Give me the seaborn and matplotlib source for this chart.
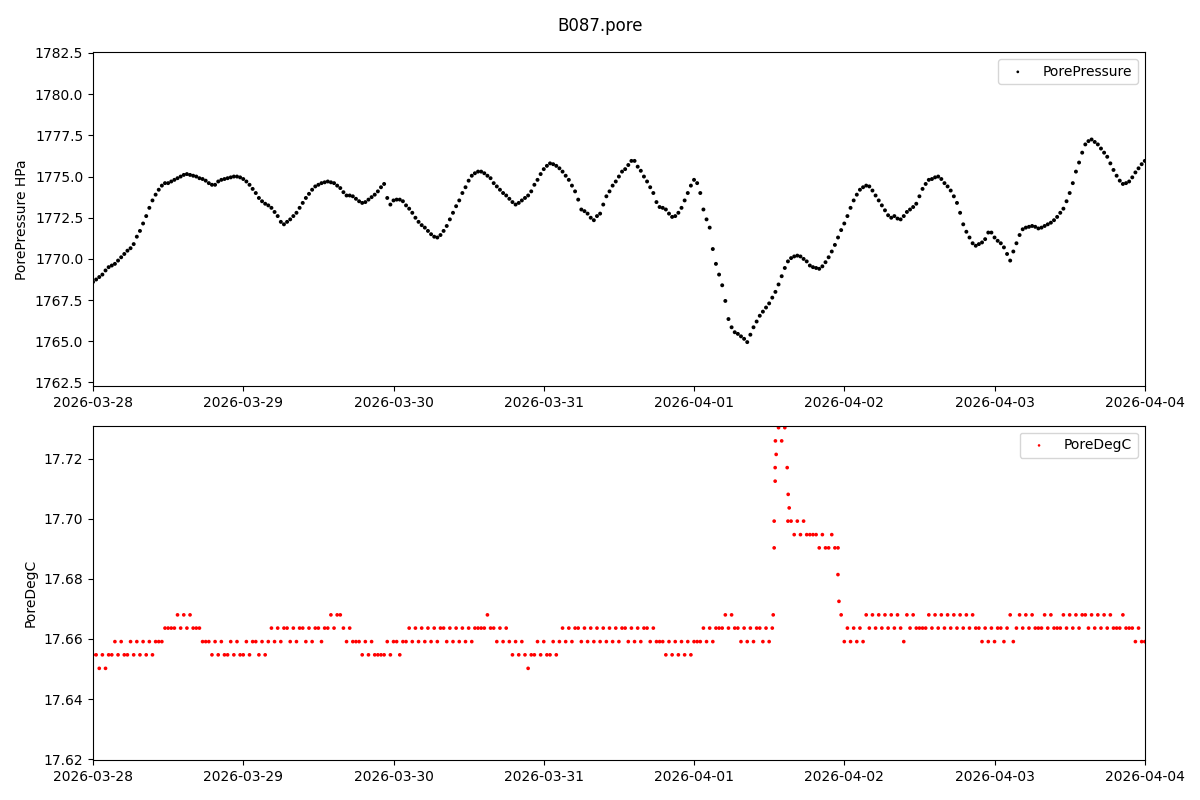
import matplotlib.pyplot as plt
import matplotlib.dates as mdates
import numpy as np
import pandas as pd
import seaborn as sns

title = 'B087.pore'
start = '2026-03-28'
end = '2026-04-04'

# pore pressure (HPa), one reading every 30 min from 2026-03-28 00:00
pressure = [
    1768.6, 1768.75, 1768.9, 1769.05, 1769.3, 1769.5, 1769.6, 1769.7, 1769.9, 1770.1, 1770.3, 1770.5,
    1770.65, 1770.9, 1771.35, 1771.7, 1772.15, 1772.6, 1773.1, 1773.55, 1773.9, 1774.2, 1774.45, 1774.6,
    1774.6, 1774.7, 1774.8, 1774.9, 1775.0, 1775.1, 1775.15, 1775.1, 1775.05, 1775.0, 1774.9, 1774.85,
    1774.75, 1774.6, 1774.5, 1774.5, 1774.7, 1774.8, 1774.85, 1774.9, 1774.95, 1775.0, 1775.0, 1774.95,
    1774.85, 1774.7, 1774.5, 1774.25, 1774.0, 1773.7, 1773.5, 1773.35, 1773.25, 1773.1, 1772.85, 1772.6,
    1772.25, 1772.1, 1772.25, 1772.4, 1772.6, 1772.8, 1773.1, 1773.4, 1773.7, 1773.95, 1774.2, 1774.4,
    1774.5, 1774.6, 1774.65, 1774.7, 1774.65, 1774.6, 1774.45, 1774.3, 1774.05, 1773.85, 1773.85, 1773.8,
    1773.65, 1773.5, 1773.4, 1773.45, 1773.6, 1773.75, 1773.9, 1774.1, 1774.35, 1774.55, 1773.7, 1773.3,
    1773.55, 1773.6, 1773.6, 1773.5, 1773.25, 1773.05, 1772.8, 1772.5, 1772.25, 1772.05, 1771.9, 1771.7,
    1771.5, 1771.35, 1771.3, 1771.45, 1771.7, 1772.0, 1772.4, 1772.8, 1773.2, 1773.55, 1774.0, 1774.35,
    1774.75, 1775.05, 1775.2, 1775.3, 1775.3, 1775.2, 1775.05, 1774.9, 1774.6, 1774.4, 1774.2, 1774.0,
    1773.85, 1773.65, 1773.45, 1773.3, 1773.4, 1773.55, 1773.7, 1773.85, 1774.1, 1774.5, 1774.8, 1775.15,
    1775.45, 1775.65, 1775.8, 1775.75, 1775.65, 1775.5, 1775.3, 1775.05, 1774.8, 1774.45, 1774.1, 1773.6,
    1773.0, 1772.9, 1772.75, 1772.5, 1772.35, 1772.6, 1772.75, 1773.3, 1773.8, 1774.1, 1774.45, 1774.7,
    1775.0, 1775.3, 1775.45, 1775.7, 1775.95, 1775.95, 1775.6, 1775.35, 1775.0, 1774.7, 1774.35, 1774.0,
    1773.45, 1773.15, 1773.1, 1773.0, 1772.75, 1772.55, 1772.6, 1772.8, 1773.1, 1773.55, 1774.0, 1774.45,
    1774.8, 1774.6, 1774.0, 1773.0, 1772.4, 1771.9, 1770.6, 1769.7, 1769.05, 1768.4, 1767.45, 1766.35,
    1765.85, 1765.55, 1765.45, 1765.3, 1765.15, 1764.95, 1765.4, 1765.85, 1766.2, 1766.55, 1766.8, 1767.05,
    1767.3, 1767.65, 1768.0, 1768.45, 1768.95, 1769.45, 1769.85, 1770.05, 1770.15, 1770.2, 1770.15, 1770.0,
    1769.85, 1769.6, 1769.5, 1769.45, 1769.4, 1769.55, 1769.8, 1770.1, 1770.45, 1770.85, 1771.3, 1771.75,
    1772.15, 1772.6, 1773.1, 1773.55, 1773.9, 1774.2, 1774.35, 1774.45, 1774.4, 1774.15, 1773.85, 1773.55,
    1773.25, 1772.95, 1772.65, 1772.5, 1772.6, 1772.45, 1772.4, 1772.6, 1772.85, 1773.0, 1773.15, 1773.35,
    1773.8, 1774.25, 1774.55, 1774.8, 1774.85, 1774.95, 1775.0, 1774.85, 1774.6, 1774.4, 1774.15, 1773.8,
    1773.4, 1772.8, 1772.1, 1771.65, 1771.3, 1770.95, 1770.8, 1770.9, 1771.0, 1771.2, 1771.6, 1771.6,
    1771.3, 1771.1, 1770.95, 1770.7, 1770.3, 1769.9, 1770.45, 1770.95, 1771.45, 1771.8, 1771.9, 1771.95,
    1772.0, 1771.95, 1771.85, 1771.9, 1772.0, 1772.1, 1772.2, 1772.35, 1772.55, 1772.8, 1773.05, 1773.5,
    1774.0, 1774.6, 1775.3, 1775.85, 1776.45, 1776.95, 1777.15, 1777.25, 1777.1, 1776.95, 1776.7, 1776.45,
    1776.2, 1775.8, 1775.4, 1775.05, 1774.75, 1774.55, 1774.6, 1774.7, 1774.95, 1775.25, 1775.5, 1775.75,
    1775.95,
]

# the sensor reports temperature in fixed steps
temp_steps = [17.6502, 17.6547, 17.6591, 17.6636, 17.6680, 17.6725, 17.6769, 17.6814, 17.6858,
              17.6903, 17.6947, 17.6992, 17.7036, 17.7081, 17.7125, 17.7170, 17.7214, 17.7259, 17.7303]

# step index every 30 min, same clock as pressure
temp_idx = [
    1, 1, 0, 1, 0, 1, 1, 2, 1, 2, 1, 1,
    2, 1, 2, 1, 2, 1, 2, 1, 2, 2, 2, 3,
    3, 3, 3, 4, 3, 4, 3, 4, 3, 3, 3, 2,
    2, 2, 1, 2, 1, 2, 1, 1, 2, 1, 2, 1,
    1, 2, 1, 2, 2, 1, 2, 1, 2, 3, 2, 3,
    2, 3, 3, 2, 3, 2, 3, 3, 2, 3, 2, 3,
    3, 2, 3, 3, 4, 3, 4, 4, 3, 2, 3, 2,
    2, 2, 1, 2, 1, 2, 1, 1, 1, 1, 2, 1,
    2, 2, 1, 2, 2, 3, 2, 3, 2, 3, 2, 3,
    2, 3, 2, 3, 3, 2, 3, 2, 3, 2, 3, 2,
    3, 2, 3, 3, 3, 3, 4, 3, 3, 2, 3, 2,
    3, 2, 1, 2, 1, 2, 1, 0, 1, 1, 2, 1,
    2, 1, 1, 2, 1, 2, 3, 2, 3, 2, 3, 3,
    2, 3, 2, 3, 2, 3, 2, 3, 2, 3, 2, 3,
    2, 3, 3, 2, 3, 2, 3, 2, 3, 3, 2, 3,
    2, 2, 2, 1, 2, 1, 2, 1, 2, 1, 2, 1,
    2, 2, 2, 3, 2, 3, 2, 3, 3, 3, 4, 3,
    4, 3, 3, 2, 3, 2, 3, 2, 3, 3, 2, 3,
    2, 3, 17, 18, 17, 18, 11, 11, 10, 11, 10, 11,
    10, 10, 10, 10, 9, 10, 9, 9, 10, 9, 9, 4,
    2, 3, 2, 3, 2, 3, 2, 4, 3, 4, 3, 4,
    3, 4, 3, 4, 3, 4, 3, 2, 4, 3, 4, 3,
    3, 3, 3, 4, 3, 4, 3, 4, 3, 4, 3, 4,
    3, 4, 3, 4, 3, 4, 3, 3, 2, 3, 2, 3,
    2, 3, 3, 2, 3, 4, 2, 3, 4, 3, 4, 3,
    4, 3, 3, 3, 4, 3, 4, 3, 3, 3, 4, 3,
    4, 3, 4, 3, 4, 4, 3, 4, 3, 4, 3, 4,
    3, 4, 3, 3, 3, 4, 3, 3, 3, 2, 3, 2,
    2,
]

# extra readings in the fast rise/fall of 2026-04-01 (hours after start, step index)
spike_hours = [108.65, 108.8, 108.8, 108.96, 108.96, 109.12, 110.88, 111.04, 111.2, 118.99, 119.15]
spike_idx = [4, 9, 11, 14, 15, 16, 15, 13, 12, 7, 5]

t0 = pd.Timestamp(start)
times = pd.date_range(t0, periods=len(pressure), freq='30min')
df_p = pd.DataFrame({'time': times, 'PorePressure': pressure})

t_times = list(times) + list(t0 + pd.to_timedelta(spike_hours, unit='h'))
t_vals = [temp_steps[i] for i in temp_idx + spike_idx]
df_t = pd.DataFrame({'time': t_times, 'PoreDegC': t_vals})

fig, (ax1, ax2) = plt.subplots(2, 1, figsize=(12, 8), dpi=100)
fig.subplots_adjust(left=0.0775, right=0.954, top=0.935, bottom=0.05, hspace=0.117)
fig.suptitle(title, fontsize=12, y=0.979)

sns.scatterplot(data=df_p, x='time', y='PorePressure', ax=ax1, color='black',
                s=8, linewidth=0, edgecolor='none', label='PorePressure')
sns.scatterplot(data=df_t, x='time', y='PoreDegC', ax=ax2, color='red',
                s=7, linewidth=0, edgecolor='none', label='PoreDegC')

ax1.set_ylim(1762.26, 1782.56)
ax2.set_ylim(17.6197, 17.731)
ax1.set_ylabel('PorePressure HPa')
ax2.set_ylabel('PoreDegC')

for ax in (ax1, ax2):
    ax.set_xlim(pd.Timestamp(start), pd.Timestamp(end))
    ax.set_xlabel('')
    ax.xaxis.set_major_locator(mdates.DayLocator())
    ax.xaxis.set_major_formatter(mdates.DateFormatter('%Y-%m-%d'))
    ax.legend(loc='upper right', markerscale=0.7)

plt.savefig('out.png')
